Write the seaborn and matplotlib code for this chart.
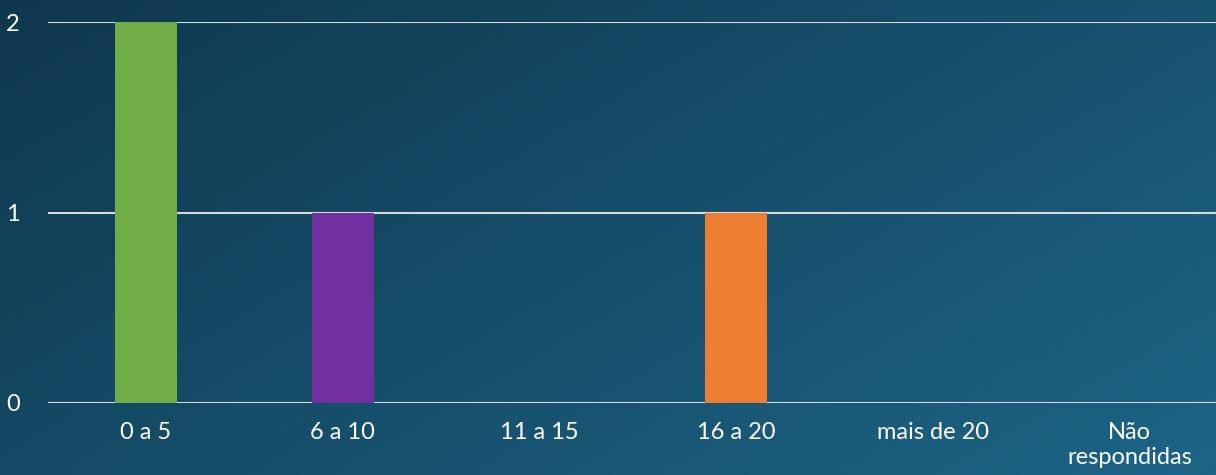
import numpy as np
import pandas as pd
import matplotlib
matplotlib.use("Agg")
import matplotlib.pyplot as plt
import seaborn as sns
from matplotlib.colors import LinearSegmentedColormap

categories = ["0 a 5", "6 a 10", "11 a 15", "16 a 20", "mais de 20", "Não\nrespondidas"]
values = [2, 1, 0, 1, 0, 0]
bar_colors = ["#70ad47", "#7030a0", "#7030a0", "#ed7d31", "#ed7d31", "#ed7d31"]

df = pd.DataFrame({"faixa": categories, "n": values})

sns.set_style("white")
plt.rcParams["font.family"] = ["Lato", "DejaVu Sans"]

fig = plt.figure(figsize=(12.16, 4.75), dpi=100)

# gradient background
bg = fig.add_axes([0, 0, 1, 1], zorder=0)
xx, yy = np.meshgrid(np.linspace(0, 1, 200), np.linspace(0, 1, 100))
grad = 0.6 * xx + 0.4 * yy
cmap = LinearSegmentedColormap.from_list("bg", ["#0f384d", "#1d6486"])
bg.imshow(grad, cmap=cmap, aspect="auto", extent=[0, 1, 0, 1], origin="upper")
bg.axis("off")

# plot area runs slightly past the right edge of the slide
ax = fig.add_axes([0.0392, 0.1516, 0.9706, 0.802], zorder=1)
ax.patch.set_alpha(0)
sns.barplot(data=df, x="faixa", y="n", hue="faixa", palette=bar_colors,
            legend=False, width=0.315, saturation=1, linewidth=0, ax=ax, zorder=3)

ax.set_ylim(0, 2)
ax.set_yticks([0, 1, 2])
ax.set_xlim(-0.5, len(categories) - 0.5)
ax.grid(axis="y", color="#d9d9d9", linewidth=1.5, zorder=1)
ax.set_axisbelow(True)
for s in ax.spines.values():
    s.set_visible(False)
ax.set_xlabel("")
ax.set_ylabel("")
ax.tick_params(axis="both", length=0, colors="white", labelsize=17)
ax.tick_params(axis="y", pad=20)
ax.tick_params(axis="x", pad=14)

fig.savefig("out.png", dpi=100)
